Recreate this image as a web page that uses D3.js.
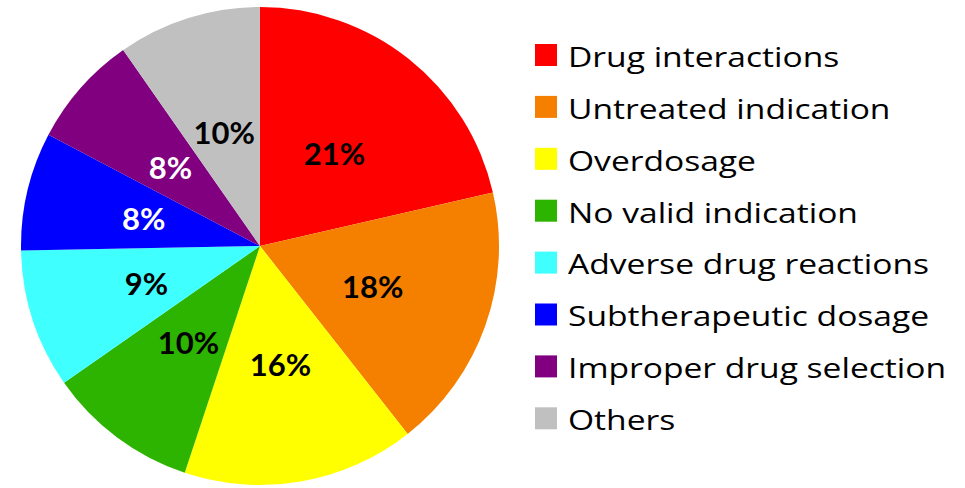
<!DOCTYPE html>
<html><head><meta charset="utf-8">
<script src="https://cdn.jsdelivr.net/npm/d3@7"></script>
<style>html,body{margin:0;padding:0;background:#fff;}svg{display:block;}</style>
</head><body>
<svg id="chart" width="965" height="488"></svg>
<script>
const categories = ["Drug interactions","Untreated indication","Overdosage","No valid indication","Adverse drug reactions","Subtherapeutic dosage","Improper drug selection","Others"];
const values = [21.4, 18.0, 15.7, 10.2, 9.4, 8.0, 7.6, 9.7];
const colors = ["#FF0000","#F58000","#FFFF00","#2DB400","#40FFFF","#0000FF","#800080","#C0C0C0"];
const labelColors = ["#000","#000","#000","#000","#000","#fff","#fff","#000"];

const svg = d3.select("#chart");
const cx = 260, cy = 246, R = 239;
const font = "'Open Sans', Lato, sans-serif";

const pie = d3.pie().sort(null).value(d => d)(values);
const arc = d3.arc().innerRadius(0).outerRadius(R);
const g = svg.append("g").attr("transform", `translate(${cx},${cy})`);
g.selectAll("path").data(pie).join("path")
  .attr("d", arc).attr("fill", (d,i) => colors[i]);
g.selectAll("text").data(pie).join("text")
  .attr("transform", d => `translate(${arc.centroid(d)})`)
  .attr("text-anchor","middle").attr("dominant-baseline","central")
  .attr("font-family", "Lato, 'Open Sans', sans-serif").attr("font-weight","bold").attr("font-size", 31)
  .attr("fill", (d,i) => labelColors[i])
  .text(d => Math.round(d.data) + "%");

const leg = svg.append("g").attr("transform","translate(535,55)");
const rows = leg.selectAll("g").data(categories).join("g")
  .attr("transform", (d,i) => `translate(0,${i*51.9})`);
rows.append("rect").attr("x",0).attr("y",-11).attr("width",22).attr("height",22)
  .attr("fill", (d,i) => colors[i]);
rows.append("text").attr("transform","translate(33,1) scale(1.2,1)").attr("dominant-baseline","central")
  .attr("font-family", font).attr("font-size", 28).attr("fill","#000")
  .text(d => d);
</script>
</body></html>
